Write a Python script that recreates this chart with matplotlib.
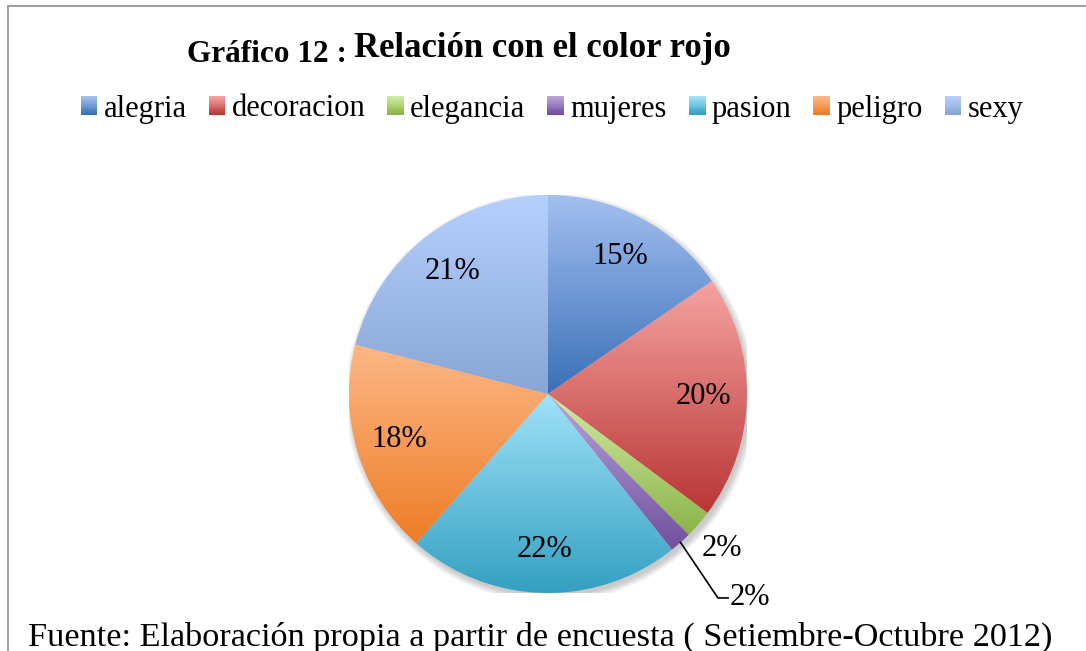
import numpy as np
import matplotlib
matplotlib.use("Agg")
from matplotlib import pyplot as plt
from matplotlib.patches import Rectangle, Patch, Circle
from matplotlib.legend_handler import HandlerBase
from matplotlib.colors import to_rgb

categorias = ["alegria", "decoracion", "elegancia", "mujeres", "pasion", "peligro", "sexy"]
porcentajes = [15.4, 19.8, 2.3, 1.8, 22.2, 17.5, 21.0]
etiquetas = ["15%", "20%", "2%", "2%", "22%", "18%", "21%"]

# colores (claro arriba, oscuro abajo) como en excel 2007
claros = ["#a3bff0", "#f5a3a1", "#d0eca4", "#b9a4d8", "#a0e2f9", "#fdb786", "#b5d0fd"]
oscuros = ["#3a70b8", "#b93636", "#8bb348", "#71509f", "#34a0c1", "#ee7d26", "#88a5d5"]

plt.rcParams['font.family'] = ['Liberation Serif', 'DejaVu Serif']

W, H = 1086, 651
fig = plt.figure(figsize=(W / 100, H / 100), dpi=100)

# marco gris
fig.patches.append(Rectangle((8 / W, -0.2), 1.2, (H - 6) / H + 0.2, transform=fig.transFigure,
                             fill=False, edgecolor="#8c8c8c", lw=1.2))

cx, cy, R = 548, 394, 199
ax = fig.add_axes([(cx - R) / W, (H - cy - R) / H, 2 * R / W, 2 * R / H])

# sombra suave
for k in range(6):
    ax.add_patch(Circle((0.012, -0.018), 1.0 + 0.006 * k, color="#000000", alpha=0.035, lw=0, zorder=0))

wedges, _ = ax.pie(porcentajes, startangle=90, counterclock=False, radius=1,
                   wedgeprops=dict(linewidth=0))


def grad(c1, c2, n=128):
    a, b = np.array(to_rgb(c1)), np.array(to_rgb(c2))
    t = np.linspace(0, 1, n)[:, None]
    return (b + (a - b) * t)[:, None, :]


for w, cl, co in zip(wedges, claros, oscuros):
    bb = w.get_path().get_extents()
    im = ax.imshow(grad(cl, co), extent=[bb.x0, bb.x1, bb.y0, bb.y1], origin="lower",
                   aspect="auto", interpolation="bilinear", zorder=2)
    im.set_clip_path(w)
    w.set_facecolor("none")

ax.set_xlim(-1, 1)
ax.set_ylim(-1, 1)
ax.axis("off")

# etiquetas de porcentaje
fs = 22
for i, (w, lab) in enumerate(zip(wedges, etiquetas)):
    ang = np.deg2rad((w.theta1 + w.theta2) / 2)
    if categorias[i] == "elegancia":
        ax.text(0.874, -0.774, lab, ha="center", va="center", fontsize=fs)
    elif categorias[i] == "mujeres":
        x0, y0 = np.cos(ang), np.sin(ang)
        ax.plot([x0, 0.854, 0.905], [y0, -1.025, -1.025], color="black", lw=1.2, clip_on=False)
        ax.text(0.915, -1.025, lab, ha="left", va="center", fontsize=fs)
    else:
        d = 0.78
        ax.text(d * np.cos(ang), d * np.sin(ang), lab, ha="center", va="center", fontsize=fs)


class GradHandler(HandlerBase):
    def __init__(self, c1, c2):
        super().__init__()
        self.c1, self.c2 = c1, c2

    def create_artists(self, legend, orig_handle, xdescent, ydescent, width, height, fontsize, trans):
        g = grad(self.c1, self.c2, 10)[:, 0, :]
        n = len(g)
        arts = []
        for j in range(n):
            r = Rectangle((-xdescent, -ydescent + height * j / n), width, height / n * 1.1,
                          facecolor=g[j], lw=0, transform=trans)
            arts.append(r)
        return arts


handles = [Patch(facecolor=o) for o in oscuros]
hmap = {h: GradHandler(cl, co) for h, cl, co in zip(handles, claros, oscuros)}
fig.legend(handles, categorias, handler_map=hmap, loc="center", bbox_to_anchor=(552 / W, (H - 109) / H),
           ncol=7, frameon=False, fontsize=22, handlelength=0.55, handleheight=0.55,
           handletextpad=0.2, columnspacing=0.72, borderaxespad=0, borderpad=0)

# titulo
fig.text(187 / W, (H - 62) / H, "Gráfico 12 :", fontsize=22.5, fontweight="bold", va="baseline")
fig.text(354 / W, (H - 57) / H, "Relación con el color rojo", fontsize=25, fontweight="bold", va="baseline")

# fuente (cortada abajo, como en el original)
fig.text(28 / W, (H - 646) / H, "Fuente: Elaboración propia a partir de encuesta ( Setiembre-Octubre 2012)",
         fontsize=24.7, va="baseline")

fig.savefig("out.png", dpi=100)
